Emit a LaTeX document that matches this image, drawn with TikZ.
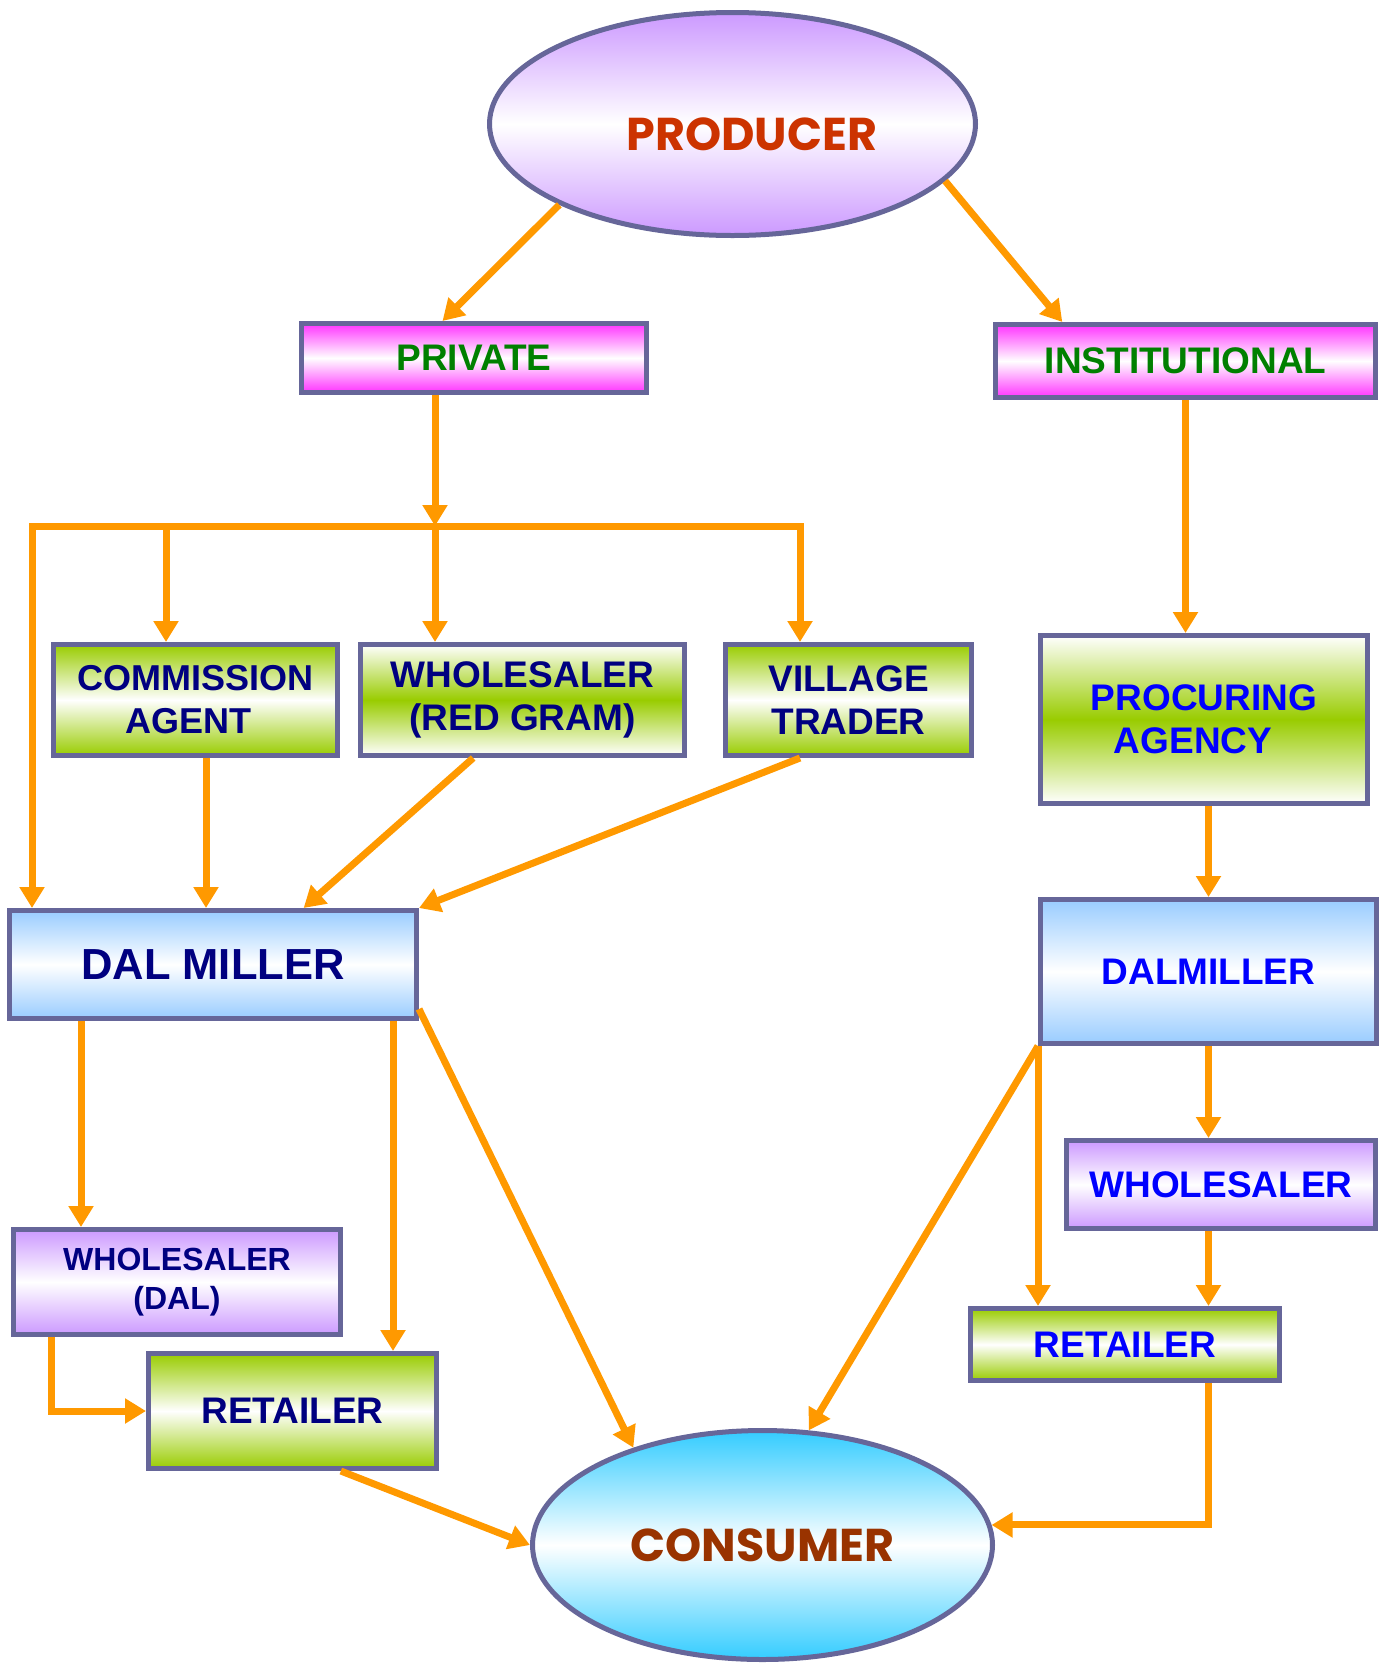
\documentclass[tikz,border=0pt]{standalone}
\usepackage{fontspec}
\setmainfont{Liberation Sans}
\newfontfamily\comicf{Poppins}
\usetikzlibrary{arrows.meta,calc,shapes.geometric}
\definecolor{bord}{HTML}{666699}
\definecolor{org}{HTML}{FF9900}
\definecolor{vio}{HTML}{CC99FF}
\definecolor{mag}{HTML}{FF33FF}
\definecolor{grn}{HTML}{99CC00}
\definecolor{lblue}{HTML}{99CCFF}
\definecolor{cyanb}{HTML}{33CCFF}
\definecolor{navyt}{HTML}{000080}
\definecolor{bluet}{HTML}{0000FF}
\definecolor{greent}{HTML}{008000}
\definecolor{prodt}{HTML}{CC3300}
\definecolor{const}{HTML}{993300}
\begin{document}
\begin{tikzpicture}[x=1pt,y=-1pt,
  box/.style={draw=bord,line width=5pt,rectangle,inner sep=0pt,align=center,
    font=\bfseries\fontsize{37}{43}\selectfont},
  oval/.style={draw=bord,line width=5pt,ellipse,inner sep=0pt,
    font=\comicf\bfseries\fontsize{46}{50}\selectfont},
  magbox/.style={box,top color=mag,bottom color=mag,middle color=white,text=greent},
  grnbox/.style={box,top color=grn,bottom color=grn,middle color=white},
  grninv/.style={box,top color=white,bottom color=white,middle color=grn},
  bluebox/.style={box,top color=lblue,bottom color=lblue,middle color=white},
  viobox/.style={box,top color=vio,bottom color=vio,middle color=white},
  arr/.style={draw=org,line width=7pt,line join=miter,-{Triangle[length=21pt,width=24pt]}},
]
\useasboundingbox (0,0) rectangle (1383,1663);

% nodes
\node[oval,top color=vio,bottom color=vio,middle color=white,
  minimum width=486pt,minimum height=223pt] (prod) at (732.5,124) {};
\node[font=\comicf\bfseries\fontsize{46}{50}\selectfont,text=prodt,inner sep=0pt] (prodlbl) at (752,134) {PRODUCER};
\node[magbox,minimum width=345pt,minimum height=69pt] (priv) at (474,358) {PRIVATE};
\node[magbox,minimum width=380pt,minimum height=73pt] (inst) at (1185.5,361) {INSTITUTIONAL};
\node[grnbox,text=navyt,minimum width=284pt,minimum height=111pt,
  font=\bfseries\fontsize{36}{43}\selectfont] (comm) at (195.5,700) {COMMISSION\\AGENT\hspace*{14pt}};
\node[grninv,text=navyt,minimum width=324pt,minimum height=111pt] (whr) at (522.5,700) {WHOLESALER\\(RED GRAM)};
\node[grnbox,text=navyt,minimum width=246pt,minimum height=111pt] (vil) at (848.5,700) {VILLAGE\\TRADER};
\node[grninv,text=bluet,minimum width=327pt,minimum height=168pt] (proc) at (1204,719.5) {PROCURING\\AGENCY\hspace*{22pt}};
\node[bluebox,text=navyt,minimum width=407pt,minimum height=108pt,
  font=\bfseries\fontsize{43.5}{50}\selectfont] (dml) at (213,964.5) {DAL MILLER};
\node[bluebox,text=bluet,minimum width=336pt,minimum height=144pt] (dmr) at (1208.5,971.5) {DALMILLER};
\node[viobox,text=bluet,minimum width=309pt,minimum height=88pt] (whrt) at (1221,1184.5) {WHOLESALER};
\node[grnbox,text=bluet,minimum width=309pt,minimum height=72pt] (retr) at (1125,1344.5) {RETAILER};
\node[viobox,text=navyt,minimum width=327pt,minimum height=105pt,
  font=\bfseries\fontsize{32}{39}\selectfont] (whdal) at (177,1282) {WHOLESALER\\(DAL)};
\node[grnbox,text=navyt,minimum width=288pt,minimum height=115pt] (retl) at (292.5,1411) {RETAILER};
\node[oval,top color=cyanb,bottom color=cyanb,middle color=white,text=const,
  minimum width=460pt,minimum height=229pt] (cons) at (762.5,1545) {CONSUMER};

% helper coordinates
\coordinate (j1) at (435,526);
\coordinate (busL) at (32,526);
\coordinate (busR) at (800,526);
\coordinate (b2) at (166,526);
\coordinate (c206) at (206,0);
\coordinate (c81) at (81,0);
\coordinate (c393) at (393,0);
\coordinate (c51) at (51,0);

% connectors
\draw[arr] (prod.205) -- ($(priv.north west)!0.41!(priv.north east)$);
\draw[arr] (prod.345) -- ($(inst.north west)!0.18!(inst.north east)$);
\draw[arr] (priv.south -| j1) -- (j1);
\draw[arr] (j1) -- (busL) -- (dml.north -| busL);
\draw[arr] (j1) -- (busR) -- (vil.north -| busR);
\draw[arr] (b2) -- (comm.north -| b2);
\draw[arr] (j1) -- (whr.north -| j1);
\draw[arr] (comm.south -| c206) -- (dml.north -| c206);
\draw[arr] ($(whr.south west)!0.35!(whr.south east)$) -- ($(dml.north west)!0.72!(dml.north east)$);
\draw[arr] (vil.south -| busR) -- (dml.north east);
\draw[arr] (inst.south) -- (proc.north -| inst.south);
\draw[arr] (proc.south -| dmr.north) -- (dmr.north);
\draw[arr] (dmr.south) -- (whrt.north -| dmr.south);
\draw[arr] (whrt.south -| dmr.south) -- (retr.north -| dmr.south);
\draw[arr] (retr.south -| dmr.south) |- (cons.5);
\draw[arr] (dmr.south west) -- (retr.north -| dmr.south west);
\draw[arr] (dmr.south west) -- (cons.68);
\draw[arr] (dml.south -| c81) -- (whdal.north -| c81);
\draw[arr] (dml.south -| c393) -- (retl.north -| c393);
\draw[arr] ($(dml.south east)+(0,-12)$) -- (cons.143);
\draw[arr] (whdal.south -| c51) |- (retl.west);
\draw[arr] ($(retl.south west)!0.665!(retl.south east)$) -- (cons.west);
\end{tikzpicture}
\end{document}
